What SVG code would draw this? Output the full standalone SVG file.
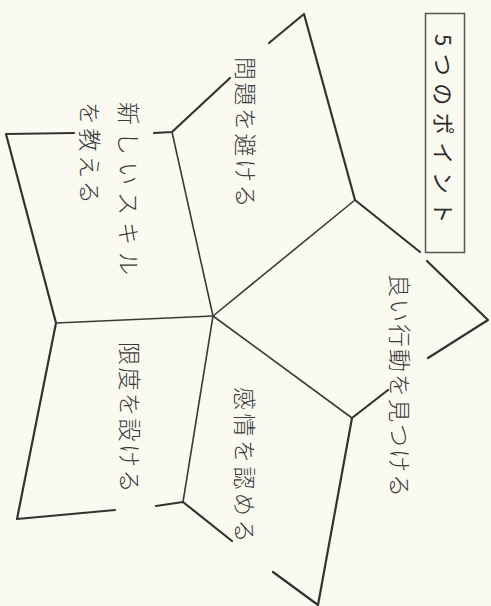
<svg xmlns="http://www.w3.org/2000/svg" width="491" height="606" viewBox="0 0 491 606">
<style>
.bg{fill:#fbfaf1}
.ln{stroke:#333;stroke-width:2.2;fill:none;stroke-linecap:round;stroke-linejoin:round}
.in{stroke:#3a3a3a;stroke-width:1.6;fill:none;stroke-linecap:round;stroke-linejoin:round}
.lb{font-family:"Noto Sans CJK JP","Noto Sans",sans-serif;font-size:23px;fill:#3a3a3a;font-weight:300;dominant-baseline:central}
.tt{font-family:"Noto Sans CJK JP","Noto Sans",sans-serif;font-size:22px;fill:#2a2a2a;font-weight:400;dominant-baseline:central}
.box{fill:none;stroke:#555;stroke-width:1.5}
</style>
<rect class="bg" x="0" y="0" width="491" height="606"/>
<g id="connectors">
<path class="ln" d="M269,43 L304,14 L355,200 L420,252"/>
<path class="in" d="M355,200 L213,316"/>
<path class="ln" d="M230,78 L172,132 L154,133"/>
<path class="in" d="M172,132 L213,316"/>
<path class="ln" d="M74,133 L6,134 L56,323 L17,519 L115,510"/>
<path class="in" d="M56,323 L213,316"/>
<path class="in" d="M213,316 L183,502"/>
<path class="ln" d="M156,506 L183,502 L232,541"/>
<path class="in" d="M213,316 L352,418"/>
<path class="ln" d="M388,390 L352,418 L318,605 L273,572"/>
<path class="ln" d="M427,261 L488,320 L428,358"/>
</g>
<g id="title">
<rect class="box" x="425.5" y="13.5" width="39" height="239"/>
<text class="tt" letter-spacing="7.5" transform="translate(445,34) rotate(90)">5つのポイント</text>
</g>
<g id="node-avoid">
<text class="lb" letter-spacing="2.5" transform="translate(247,57) rotate(90)">問題を避ける</text>
</g>
<g id="node-skill">
<text class="lb" letter-spacing="7" transform="translate(130,102) rotate(90)">新しいスキル</text>
<text class="lb" letter-spacing="3.5" transform="translate(91,102) rotate(90)">を教える</text>
</g>
<g id="node-limit">
<text class="lb" letter-spacing="2.5" transform="translate(131,342) rotate(90)">限度を設ける</text>
</g>
<g id="node-feelings">
<text class="lb" letter-spacing="3.5" transform="translate(246,387) rotate(90)">感情を認める</text>
</g>
<g id="node-good">
<text class="lb" letter-spacing="2" transform="translate(401,274) rotate(90)">良い行動を見つける</text>
</g>
</svg>
